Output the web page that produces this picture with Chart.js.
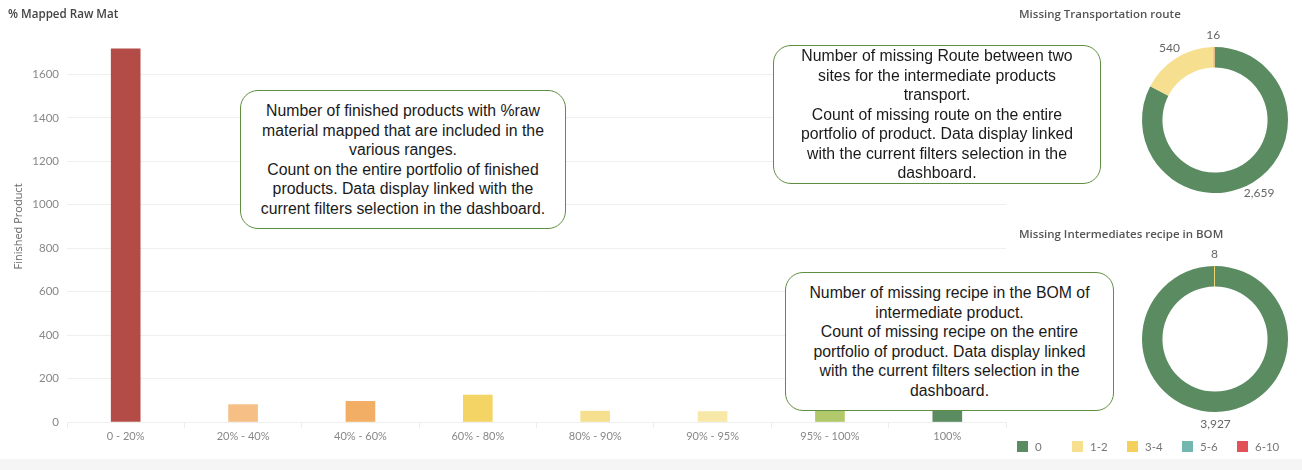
<!DOCTYPE html>
<html>
<head>
<meta charset="utf-8">
<script src="https://cdn.jsdelivr.net/npm/chart.js@4.4.1/dist/chart.umd.min.js"></script>
<style>
  html, body { margin: 0; padding: 0; background: #fff; }
  body { width: 1302px; height: 470px; position: relative; overflow: hidden; font-family: Lato, "Open Sans", sans-serif; }
  .title { position: absolute; font-family: "Open Sans", sans-serif; font-weight: 600; color: #444; white-space: nowrap; line-height: 14px; }
  .note {
    position: absolute; box-sizing: border-box; background: #fff;
    border: 1.5px solid #5e8f3f; border-radius: 18px;
    display: flex; align-items: center; justify-content: center; text-align: center;
    font-family: "Liberation Sans", Arial, sans-serif; font-size: 15.8px; line-height: 19.5px;
    color: #1a1a1a; white-space: nowrap;
  }
  .band { position: absolute; left: 0; top: 459px; width: 1302px; height: 11px; background: #f5f5f5; }
  #legend { position: absolute; left: 1017px; top: 441px; height: 12px; }
  .lg { position: absolute; top: 0; font-size: 11.5px; color: #777; line-height: 12px; white-space: nowrap; }
  .lg i { position: absolute; left: 0; top: 0; width: 11px; height: 11px; }
  .lg span { position: absolute; left: 18px; top: 0; }
  canvas { position: absolute; }
</style>
</head>
<body>
<canvas id="bars" style="left:0;top:0;width:1010px;height:452px;" width="1010" height="452"></canvas>
<canvas id="route" style="left:1105px;top:10px;width:220px;height:220px;" width="220" height="220"></canvas>
<canvas id="recipe" style="left:1105px;top:229px;width:220px;height:220px;" width="220" height="220"></canvas>

<div class="title" style="left:8px;top:7px;font-size:11.6px;">% Mapped Raw Mat</div>
<div class="title" style="left:1019px;top:7px;font-size:11.5px;color:#555;">Missing Transportation route</div>
<div class="title" style="left:1019px;top:227px;font-size:11.5px;color:#555;">Missing Intermediates recipe in BOM</div>

<div class="note" style="left:240px;top:90px;width:326px;height:139px;">
  <div>Number of finished products with %raw<br>material mapped that are included in the<br>various ranges.<br>Count on the entire portfolio of finished<br>products. Data display linked with the<br>current filters selection in the dashboard.</div>
</div>
<div class="note" style="left:773px;top:45px;width:328px;height:139px;">
  <div>Number of missing Route between two<br>sites for the intermediate products<br>transport.<br>Count of missing route on the entire<br>portfolio of product. Data display linked<br>with the current filters selection in the<br>dashboard.</div>
</div>
<div class="note" style="left:785px;top:272px;width:329px;height:139px;">
  <div>Number of missing recipe in the BOM of<br>intermediate product.<br>Count of missing recipe on the entire<br>portfolio of product. Data display linked<br>with the current filters selection in the<br>dashboard.</div>
</div>

<div id="legend"></div>
<div class="band"></div>

<script>
// % raw material mapped ranges -> number of finished products
const rangeLabels = ['0 - 20%', '20% - 40%', '40% - 60%', '60% - 80%', '80% - 90%', '90% - 95%', '95% - 100%', '100%'];
const finishedProducts = [1718, 80, 95, 124, 50, 48, 70, 75];
const yTickValues = [0, 200, 400, 600, 800, 1000, 1200, 1400, 1600];

// missing counts buckets
const bucketLabels = ['0', '1-2', '3-4', '5-6', '6-10'];
const routeCounts = [2659, 540, 16, 1, 2];
const recipeCounts = [3927, 0, 8, 0, 0];

const rangeColors = ['#b34c46', '#f5bf86', '#f3ae66', '#f5d466', '#f6e08f', '#f8e8a8', '#b1c96b', '#5a8b61'];
const bucketColors = ['#5a8b61', '#f6e08f', '#f3d15c', '#71b7b0', '#e05257'];

Chart.defaults.font.family = 'Lato, "Open Sans", sans-serif';
Chart.defaults.animation = false;

new Chart(document.getElementById('bars'), {
    type: 'bar',
    data: {
        labels: rangeLabels,
        datasets: [{
            data: finishedProducts,
            backgroundColor: rangeColors,
            barThickness: 29
        }]
    },
    options: {
        responsive: false,
        layout: { padding: { top: 31, right: 4, left: 0, bottom: 0 } },
        plugins: { legend: { display: false }, tooltip: { enabled: false } },
        scales: {
            x: {
                grid: { offset: true, drawOnChartArea: false, tickLength: 6, color: '#ececec' },
                border: { display: false },
                ticks: { color: '#888', font: { size: 11 }, padding: 2, maxRotation: 0 },
                afterFit: s => { s.height = 30; }
            },
            y: {
                min: 0, max: 1800,
                ticks: { stepSize: 200, color: '#888', font: { size: 11.5 }, padding: 8, callback: v => String(v) },
                afterBuildTicks: s => { s.ticks = yTickValues.map(v => ({ value: v })); },
                grid: { color: '#efefef', drawTicks: false },
                border: { display: false },
                title: { display: true, text: 'Finished Product', color: '#666', font: { size: 11, family: '"Open Sans", sans-serif' }, padding: { top: 12, bottom: 0 } },
                afterFit: s => { s.width = 67; }
            }
        }
    }
});

// draws value labels just outside each labelled slice
const sliceLabels = {
    id: 'sliceLabels',
    afterDraw(chart) {
        const ctx = chart.ctx;
        const arcs = chart.getDatasetMeta(0).data;
        const values = chart.data.datasets[0].data;
        ctx.save();
        ctx.font = '12px Lato, "Open Sans", sans-serif';
        ctx.fillStyle = '#666';
        ctx.textAlign = 'center';
        ctx.textBaseline = 'middle';
        arcs.forEach((arc, i) => {
            if (values[i] < 5) return;
            const mid = (arc.startAngle + arc.endAngle) / 2;
            const r = arc.outerRadius + 12;
            ctx.fillText(values[i].toLocaleString('en-US'), arc.x + Math.cos(mid) * r, arc.y + Math.sin(mid) * r);
        });
        ctx.restore();
    }
};

const donut = (id, counts) => new Chart(document.getElementById(id), {
    type: 'doughnut',
    data: {
        labels: bucketLabels,
        datasets: [{ data: counts, backgroundColor: bucketColors, borderWidth: 0 }]
    },
    options: {
        responsive: false,
        cutout: '72%',
        layout: { padding: 37 },
        plugins: { legend: { display: false }, tooltip: { enabled: false } }
    },
    plugins: [sliceLabels]
});

donut('route', routeCounts);
donut('recipe', recipeCounts);

// shared colour legend
const legend = document.getElementById('legend');
bucketLabels.forEach((lbl, i) => {
    const item = document.createElement('div');
    item.className = 'lg';
    item.style.left = (i * 55) + 'px';
    item.innerHTML = '<i style="background:' + bucketColors[i] + '"></i><span>' + lbl + '</span>';
    legend.appendChild(item);
});
</script>
</body>
</html>
